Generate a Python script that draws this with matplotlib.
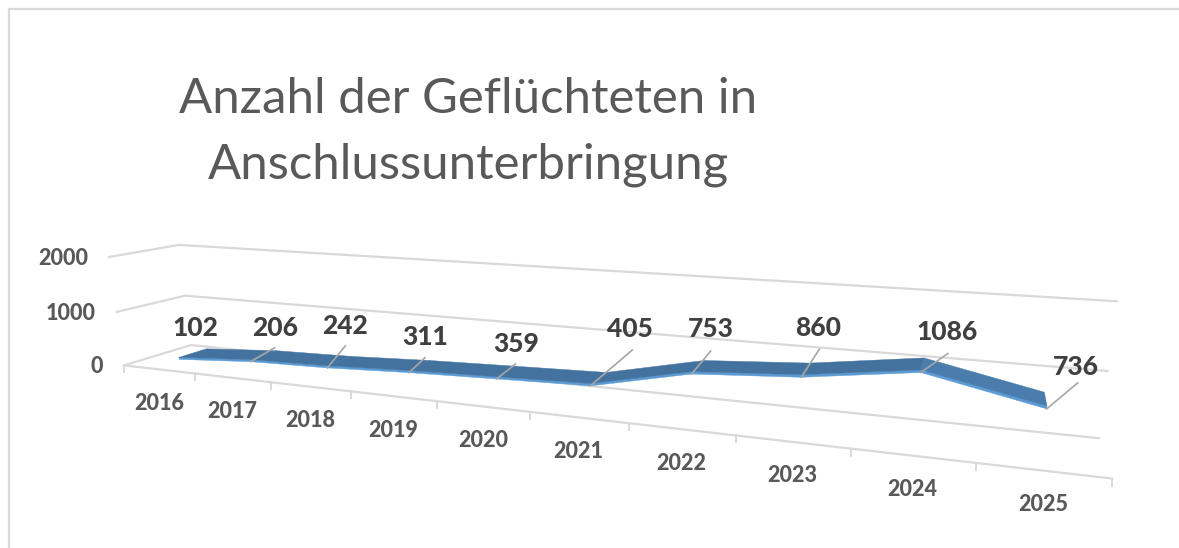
import numpy as np
import matplotlib
matplotlib.use('Agg')
import matplotlib.pyplot as plt
from matplotlib.patches import Polygon

years = ['2016', '2017', '2018', '2019', '2020', '2021', '2022', '2023', '2024', '2025']
values = [102, 206, 242, 311, 359, 405, 753, 860, 1086, 736]
y_ticks = [0, 1000, 2000]
title_lines = ['Anzahl der Geflüchteten in', 'Anschlussunterbringung']

# label position relative to the point, in pixels (x right, y down)
label_dx = [16, 24, 18, 16, 20, 40, 19, 17, 26, 29]
label_dy = [-31, -34, -42, -36, -35, -57, -45, -49, -41, -42]
leader_dx = [0, 24, 18, 16, 19, 42, 19, 18, 27, 31]
leader_dy = [0, -14, -22, -15, -15, -36, -23, -28, -19, -26]

GRID = '#d9d9d9'
TOP = '#44729f'
TOP_DOWN = '#4a7dae'
FRONT = '#5b9bd5'
Z_FRONT, Z_BACK = 0.30, 0.72
STRIP = 38


def fit_camera():
    '''Fit a 3x4 camera matrix, (slot, value, depth) -> image pixels'''
    refs = [
        (0, 0, 0, 124, 365), (10, 0, 0, 1112, 479), (5, 0, 0, 530, 412),
        (0, 0, 1, 191, 345), (10, 0, 1, 1099, 438),
        (0, 1000, 0, 116, 312), (0, 2000, 0, 109, 257),
        (0, 1000, 1, 185, 296), (0, 2000, 1, 179, 245),
        (10, 1000, 1, 1108, 371), (10, 2000, 1, 1117, 301),
    ]
    rows = []
    for u, v, z, px, py in refs:
        p = [u, v / 1000, z, 1]
        rows.append(p + [0, 0, 0, 0] + [-px * c for c in p])
        rows.append([0, 0, 0, 0] + p + [-py * c for c in p])
    return np.linalg.svd(np.array(rows, dtype=float))[2][-1].reshape(3, 4)


CAM = fit_camera()


def project(u, v, z):
    u, v, z = np.broadcast_arrays(np.asarray(u, float), np.asarray(v, float), np.asarray(z, float))
    h = CAM @ np.stack([u, v / 1000, z, np.ones_like(u)])
    return h[0] / h[2], h[1] / h[2]


def quad(ax, a, b, c, d, color, zorder):
    pts = [project(*p) for p in (a, b, c, d)]
    ax.add_patch(Polygon(pts, closed=True, fc=color, ec=color, lw=0.3, zorder=zorder))


plt.rcParams['font.family'] = ['Lato', 'DejaVu Sans']
fig = plt.figure(figsize=(11.79, 5.48), dpi=100)
ax = fig.add_axes([0, 0, 1, 1])
ax.set_xlim(0, 1179)
ax.set_ylim(548, 0)
ax.set_axis_off()

# chart frame, cut by the edge of the screenshot
ax.plot([9, 9, 1179], [548, 9, 9], color=GRID, lw=1.6, zorder=1)

for i, line in enumerate(title_lines):
    ax.text(468, 99 + i * 66, line, ha='center', va='center', fontsize=35.4, color='#595959')

# gridlines
n = len(years)
for t in y_ticks:
    xs, ys = project([0, 0, n], [t, t, t], [0, 1, 1])
    ax.plot(xs, ys, color=GRID, lw=1.6, solid_capstyle='round', zorder=2)
    x0, y0 = project(0, t, 0)
    ax.text(x0 - 21, y0 + 1, str(t), ha='right', va='center', fontsize=15.5,
            fontweight='black', color='#595959')

xs, ys = project([0, n], [0, 0], [0, 0])
ax.plot(xs, ys, color=GRID, lw=1.6, zorder=2)
for i in range(n + 1):
    x0, y0 = project(i, 0, 0)
    ax.plot([x0, x0], [y0, y0 + 7], color=GRID, lw=1.4, zorder=2)

for i, year in enumerate(years):
    x0, y0 = project(i + 0.5, 0, 0)
    ax.text(x0, y0 + 34, year, ha='center', va='center', fontsize=15.5,
            fontweight='black', color='#595959')

# ribbon
slots = np.arange(n) + 0.5
for i in range(n - 1):
    u0, u1 = slots[i], slots[i + 1]
    v0, v1 = values[i], values[i + 1]
    quad(ax, (u0, v0 - STRIP, Z_FRONT), (u1, v1 - STRIP, Z_FRONT), (u1, v1, Z_FRONT), (u0, v0, Z_FRONT), FRONT, 3)
    color = TOP_DOWN if v1 < v0 else TOP
    quad(ax, (u0, v0, Z_FRONT), (u1, v1, Z_FRONT), (u1, v1, Z_BACK), (u0, v0, Z_BACK), color, 4)

# data labels and leader lines
for i, v in enumerate(values):
    x0, y0 = project(slots[i], v - STRIP, Z_FRONT)
    if leader_dx[i]:
        ax.plot([x0, x0 + leader_dx[i]], [y0, y0 + leader_dy[i]], color='#a6a6a6', lw=1.2, zorder=5)
    ax.text(x0 + label_dx[i], y0 + label_dy[i], str(v), ha='center', va='center', fontsize=19,
            fontweight='black', color='#404040', zorder=6)

fig.savefig('out.png', dpi=100)
